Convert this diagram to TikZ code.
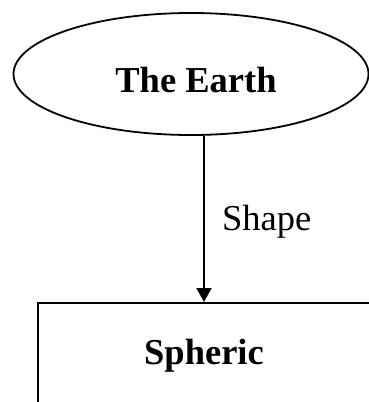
\documentclass[tikz,border=0pt]{standalone}
\usepackage{fontspec}
\setmainfont{Liberation Serif}
\usetikzlibrary{shapes.geometric,arrows.meta}
\begin{document}
\begin{tikzpicture}[x=1pt,y=-1pt,
  txt/.style={inner sep=0pt,font=\fontsize{36.5}{40}\selectfont},
  bold/.style={txt,font=\fontsize{36.5}{40}\selectfont\bfseries}]
\useasboundingbox (0,0) rectangle (369,402);
\clip (0,0) rectangle (369,402);
\node[draw,ellipse,line width=1.8pt,minimum width=355pt,minimum height=122pt,inner sep=0pt] (earth) at (191,74) {};
\node[bold,anchor=base] (earthtxt) at (196,92) {The Earth};
\node[draw,line width=1.5pt,anchor=north west,minimum width=345pt,minimum height=120pt,inner sep=0pt] (box) at (37,302) {};
\node[bold,anchor=base] (sphtxt) at (204,364) {Spheric};
\path (earth.south) ++(13,0) coordinate (a);
\draw[line width=1.8pt,-{Triangle[width=15pt,length=14pt]}] (a) -- (a |- box.north);
\node[txt,anchor=base west] (shape) at (222,230) {Shape};
\end{tikzpicture}
\end{document}
